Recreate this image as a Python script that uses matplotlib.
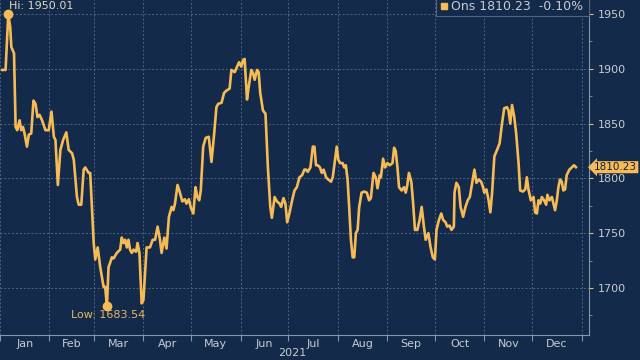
import matplotlib
matplotlib.use("Agg")
import matplotlib.pyplot as plt
from matplotlib.patches import Rectangle
from matplotlib.transforms import blended_transform_factory

# gold price 2021, x = days since 1 Jan 2021
days = [1.4, 3.5, 5.2, 6.4, 7.1, 8.8, 9.8, 10.8, 12.3, 13.3,
        14.4, 15.4, 16.9, 18.1, 19.6, 21.0, 22.3, 23.5, 24.8, 26.4,
        28.5, 30.6, 32.3, 33.8, 34.8, 36.3, 37.9, 39.6, 41.6, 43.1,
        45.2, 46.3, 48.3, 49.4, 51.0, 52.5, 53.5, 55.6, 56.6, 58.8,
        59.8, 61.3, 62.9, 65.0, 66.0, 67.1, 68.1, 69.1, 70.2, 71.3,
        73.3, 75.4, 76.4, 77.5, 78.5, 79.6, 80.6, 81.6, 82.7, 83.8,
        85.4, 86.3, 87.5, 88.9, 90.0, 92.0, 94.1, 95.8, 97.3, 98.9,
        100.4, 101.4, 103.1, 104.5, 106.0, 107.7, 108.8, 109.8, 111.4, 112.9,
        114.4, 116.0, 117.0, 118.5, 119.8, 121.3, 122.7, 123.8, 125.0, 126.0,
        127.5, 129.1, 131.0, 132.7, 134.4, 135.8, 136.9, 139.0, 140.6, 142.0,
        144.1, 145.2, 147.3, 148.8, 150.0, 151.4, 152.5, 153.5, 155.0, 156.0,
        157.7, 158.8, 159.8, 161.3, 162.3, 163.3, 165.0, 166.6, 168.1, 169.6,
        170.6, 172.3, 173.8, 175.4, 176.4, 177.9, 179.1, 180.2, 181.6, 183.3,
        184.8, 186.3, 187.9, 189.6, 191.0, 192.0, 193.1, 194.8, 196.3, 197.3,
        198.3, 199.4, 200.8, 201.9, 203.1, 204.6, 206.0, 207.7, 208.8, 209.8,
        211.3, 212.3, 213.5, 215.0, 216.0, 217.0, 218.1, 219.1, 220.2, 221.3,
        222.3, 223.3, 224.4, 225.4, 226.9, 228.5, 230.2, 231.6, 232.7, 234.4,
        235.8, 236.9, 238.3, 239.0, 240.4, 241.6, 243.1, 244.6, 246.3, 247.3,
        248.3, 249.4, 250.4, 252.0, 253.5, 254.6, 255.6, 256.6, 258.1, 259.1,
        260.4, 261.9, 263.3, 264.6, 266.0, 267.1, 268.8, 270.2, 271.6, 272.9,
        273.9, 275.4, 276.9, 278.1, 279.6, 280.6, 282.1, 283.3, 284.8, 285.2,
        286.4, 287.9, 289.0, 290.6, 292.1, 293.5, 294.8, 296.3, 297.7, 299.0,
        300.4, 301.9, 303.1, 303.9, 305.2, 306.6, 307.7, 308.8, 310.2, 311.9,
        313.5, 315.0, 316.4, 318.1, 319.1, 320.2, 321.3, 322.7, 323.9, 325.4,
        326.4, 328.1, 329.6, 330.6, 331.6, 333.1, 334.8, 335.8, 336.9, 337.9,
        339.0, 340.0, 341.4, 342.7, 343.5, 344.8, 346.3, 347.3, 348.3, 349.4,
        350.4, 351.4, 352.5, 353.5, 354.6, 355.6, 357.3, 358.8, 360.2, 361.4]
prices = [1899, 1899, 1950.01, 1938, 1920, 1914, 1847, 1844, 1853, 1844,
          1847, 1841, 1829, 1840, 1841, 1871, 1868, 1856, 1858, 1853,
          1844, 1844, 1861, 1838, 1835, 1794, 1826, 1835, 1842, 1826,
          1823, 1817, 1783, 1776, 1776, 1808, 1810, 1805, 1805, 1741,
          1726, 1737, 1719, 1701, 1701, 1683.54, 1719, 1723, 1728, 1727,
          1732, 1735, 1746, 1741, 1744, 1737, 1744, 1735, 1732, 1735,
          1733, 1741, 1732, 1686, 1689, 1737, 1737, 1744, 1744, 1756,
          1744, 1732, 1746, 1736, 1765, 1774, 1771, 1777, 1794, 1787,
          1779, 1781, 1777, 1781, 1773, 1768, 1792, 1783, 1780, 1789,
          1829, 1837, 1838, 1815, 1841, 1865, 1868, 1869, 1878, 1880,
          1882, 1899, 1897, 1902, 1906, 1902, 1908, 1909, 1872, 1883,
          1899, 1896, 1890, 1899, 1897, 1878, 1862, 1859, 1810, 1774,
          1764, 1783, 1779, 1777, 1774, 1782, 1777, 1760, 1768, 1780,
          1789, 1792, 1801, 1803, 1808, 1808, 1806, 1810, 1829, 1829,
          1812, 1812, 1810, 1805, 1808, 1801, 1799, 1797, 1801, 1812,
          1829, 1817, 1814, 1814, 1810, 1812, 1799, 1774, 1744, 1728,
          1728, 1750, 1753, 1774, 1787, 1788, 1787, 1780, 1782, 1805,
          1801, 1791, 1803, 1801, 1818, 1810, 1814, 1812, 1814, 1828,
          1825, 1810, 1792, 1789, 1792, 1787, 1794, 1805, 1797, 1780,
          1753, 1753, 1762, 1774, 1756, 1744, 1750, 1737, 1728, 1726,
          1753, 1762, 1768, 1762, 1760, 1756, 1757, 1753, 1756, 1787,
          1796, 1792, 1774, 1765, 1774, 1780, 1783, 1796, 1808, 1796,
          1799, 1797, 1792, 1787, 1790, 1780, 1769, 1787, 1820, 1826,
          1832, 1850, 1864, 1865, 1862, 1850, 1867, 1856, 1841, 1814,
          1789, 1788, 1790, 1801, 1790, 1780, 1783, 1769, 1768, 1780,
          1777, 1783, 1780, 1776, 1785, 1780, 1783, 1777, 1771, 1780,
          1792, 1799, 1797, 1789, 1790, 1803, 1808, 1810, 1812, 1810.23]

month_starts = [0, 31, 59, 90, 120, 151, 181, 212, 243, 273, 304, 334, 365]
month_names = ["Jan", "Feb", "Mar", "Apr", "May", "Jun",
               "Jul", "Aug", "Sep", "Oct", "Nov", "Dec"]
hi_day, hi_val = 5.2, 1950.01
low_day, low_val = 67.1, 1683.54
last_val = 1810.23
legend_text = "Ons 1810.23  -0.10%"

bg = "#132a4a"
gold = "#f7bb55"
txt = "#c9ccd2"
grid_c = "#4d6482"

fig = plt.figure(figsize=(6.4, 3.6), dpi=100, facecolor=bg)
ax = fig.add_axes([0.0, 25 / 360, 589 / 640, 335 / 360])
ax.set_facecolor(bg)

ax.plot(days, prices, color=gold, lw=1.9, solid_joinstyle="round", zorder=3)
ax.plot([hi_day], [hi_val], "o", color=gold, ms=6, zorder=4)
ax.plot([low_day], [low_val], "o", color=gold, ms=6, zorder=4)

ax.set_xlim(1.44, 369.6)
ax.set_ylim(1657.1, 1962.8)

# axes, ticks
ax.yaxis.tick_right()
ax.set_yticks([1700, 1750, 1800, 1850, 1900, 1950])
ax.set_yticks(range(1675, 1960, 25), minor=True)
ax.tick_params(axis="y", which="major", colors=txt, labelsize=8, length=3,
               pad=3, direction="out")
ax.tick_params(axis="y", which="major", color=gold)
ax.tick_params(axis="y", which="minor", color="#8a96a8", length=2, direction="out")

ax.set_xticks(month_starts)
ax.set_xticklabels([])
ax.set_xticks([(month_starts[i] + month_starts[i + 1]) / 2 for i in range(12)], minor=True)
ax.set_xticklabels(month_names, minor=True)
ax.tick_params(axis="x", which="major", color="#8a96a8", length=4, direction="out")
ax.tick_params(axis="x", which="minor", length=0, pad=3, colors=txt, labelsize=8)

for s in ["top", "left"]:
    ax.spines[s].set_visible(False)
for s in ["bottom", "right"]:
    ax.spines[s].set_color("#8a96a8")
    ax.spines[s].set_linewidth(0.8)

ax.grid(True, which="major", color=grid_c, ls=(0, (2, 2)), lw=0.7)

# annotations
ax.text(5.4, 1957.3, "Hi: 1950.01", color="#e2d6bd", fontsize=8, va="center", ha="left")
ax.text(44.6, 1675.4, "Low: 1683.54", color="#e6b764", fontsize=8, va="center", ha="left")

tr = blended_transform_factory(ax.transAxes, ax.transData)
ax.text(1.009, last_val, "1810.23", transform=tr, fontsize=7.5, color="#14213a",
        va="center", ha="left", clip_on=False,
        bbox=dict(boxstyle="larrow,pad=0.1", fc=gold, ec="none"))

# legend box at top right
ax.add_patch(Rectangle((436 / 589, 1 - 16 / 335), 153 / 589, 20 / 335,
                       transform=ax.transAxes, fc=bg, ec="#56657c", lw=0.8,
                       clip_on=False, zorder=5))
ax.plot([444 / 589], [1 - 6 / 335], "s", color=gold, ms=4,
        transform=ax.transAxes, clip_on=False, zorder=6)
ax.text(451 / 589, 1 - 6 / 335, legend_text, transform=ax.transAxes,
        color=txt, fontsize=9, va="center", ha="left", zorder=6)

fig.text(292 / 640, 1 - 353 / 360, "2021", color=txt, fontsize=8, ha="center", va="center")

fig.savefig("out.png", dpi=100, facecolor=bg)
